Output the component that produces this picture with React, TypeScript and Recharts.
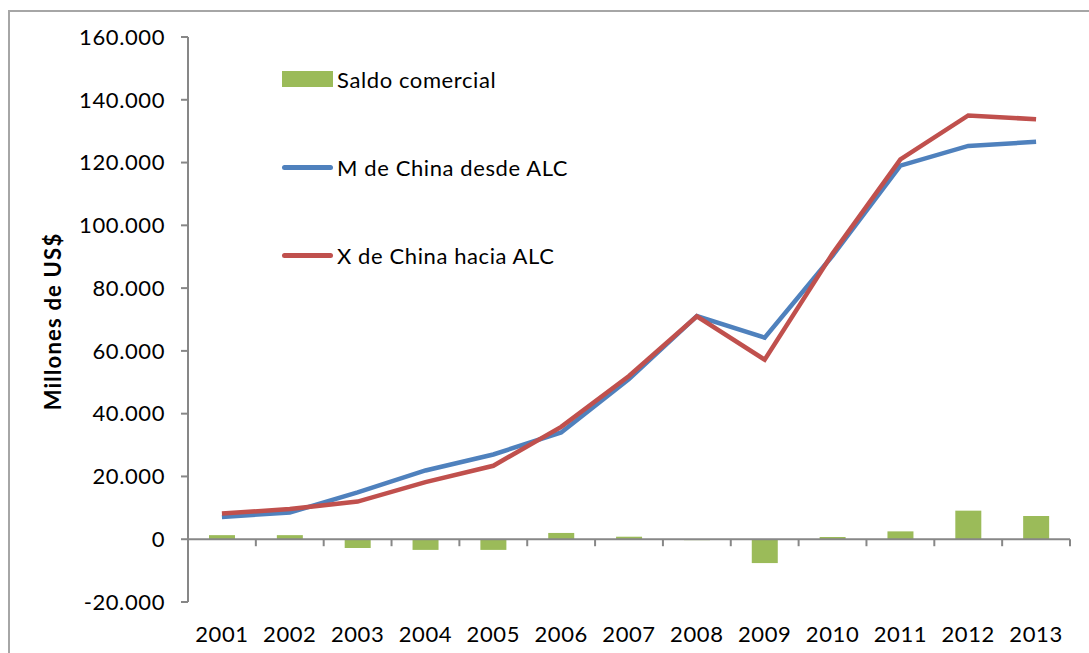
import { Bar, ComposedChart, Legend, Line, ReferenceLine, XAxis, YAxis } from 'recharts'

const years = ['2001', '2002', '2003', '2004', '2005', '2006', '2007', '2008', '2009', '2010', '2011', '2012', '2013']
// millones de US$
const saldoComercial = [1300, 1300, -2800, -3400, -3400, 2000, 800, -300, -7600, 700, 2500, 9100, 7400]
const importacionesChina = [7100, 8500, 14900, 21900, 27000, 34000, 51000, 71100, 64200, 90300, 119000, 125300, 126600]
const exportacionesChina = [8200, 9600, 12000, 18200, 23400, 35800, 52000, 71000, 57200, 91000, 121000, 135000, 133800]
const yTicks = [-20000, 0, 20000, 40000, 60000, 80000, 100000, 120000, 140000, 160000]

const legendOrder = ['Saldo comercial', 'M de China desde ALC', 'X de China hacia ALC']

const GREEN = '#9BBB59'
const BLUE = '#4F81BD'
const RED = '#C0504D'
const AXIS = '#878787'
const FONT = 'Lato, "Open Sans", sans-serif'
const tickStyle = { fill: '#000', fontSize: 22, fontFamily: FONT, letterSpacing: 0.6 }

const data = years.map((year, i) => ({
  year,
  saldo: saldoComercial[i],
  m: importacionesChina[i],
  x: exportacionesChina[i],
}))

function formatMiles(value: number): string {
  const sign = value < 0 ? '-' : ''
  return sign + String(Math.abs(value)).replace(/\B(?=(\d{3})+(?!\d))/g, '.')
}

// zero line with the category-boundary ticks hanging below it
function ZeroAxis(props: any) {
  const { x1, x2, y1 } = props
  const step = (x2 - x1) / years.length
  return (
    <g>
      <line x1={x1} x2={x2} y1={y1} y2={y1} stroke={AXIS} strokeWidth={2} />
      {Array.from({ length: years.length + 1 }, (_, i) => (
        <line key={i} x1={x1 + i * step} x2={x1 + i * step} y1={y1} y2={y1 + 7} stroke={AXIS} strokeWidth={2} />
      ))}
    </g>
  )
}

function LegendBox({ payload }: any) {
  const items = [...(payload ?? [])].sort((a, b) => legendOrder.indexOf(a.value) - legendOrder.indexOf(b.value))
  return (
    <div style={{ fontFamily: FONT, fontSize: 22, letterSpacing: 0.6, color: '#000' }}>
      {items.map((item: any) => (
        <div key={item.value} style={{ display: 'flex', alignItems: 'center', height: 88 }}>
          {item.type === 'rect' ? (
            <span style={{ display: 'inline-block', width: 51, height: 16, background: item.color }} />
          ) : (
            <span style={{ display: 'inline-block', width: 51, height: 5, borderRadius: 3, background: item.color }} />
          )}
          <span style={{ marginLeft: 4 }}>{item.value}</span>
        </div>
      ))}
    </div>
  )
}

function YLabel({ viewBox }: any) {
  const cx = 52
  const cy = viewBox.y + viewBox.height / 2 + 2
  return (
    <text
      x={cx}
      y={cy}
      transform={`rotate(-90, ${cx}, ${cy})`}
      textAnchor="middle"
      dominantBaseline="central"
      fontFamily={FONT}
      fontWeight="bold"
      fontSize={22}
      letterSpacing={1.2}
      fill="#000"
    >
      Millones de US$
    </text>
  )
}

export default function App() {
  return (
    <div style={{ position: 'absolute', left: 0, top: 0, width: 1089, height: 653, overflow: 'hidden', background: '#fff' }}>
      <div
        style={{
          position: 'absolute',
          left: 8,
          top: 10,
          width: 1200,
          height: 800,
          borderTop: '2px solid #a6a6a6',
          borderLeft: '2px solid #a6a6a6',
        }}
      />
      <div style={{ position: 'absolute', left: 0, top: 0 }}>
        <ComposedChart width={1089} height={653} data={data} margin={{ top: 37, right: 19, bottom: 11, left: 0 }}>
          <XAxis
            dataKey="year"
            axisLine={false}
            tickLine={false}
            tickSize={0}
            tickMargin={24}
            height={40}
            interval={0}
            tick={tickStyle}
          />
          <YAxis
            domain={[-20000, 160000]}
            ticks={yTicks}
            interval={0}
            width={188}
            tickFormatter={formatMiles}
            axisLine={{ stroke: AXIS, strokeWidth: 2 }}
            tickLine={{ stroke: AXIS, strokeWidth: 2 }}
            tickSize={7}
            tickMargin={16}
            tick={tickStyle}
            label={YLabel}
          />
          <Legend
            layout="vertical"
            align="center"
            verticalAlign="middle"
            wrapperStyle={{ left: 282, top: 35, width: 340 }}
            content={LegendBox}
          />
          <Bar dataKey="saldo" name="Saldo comercial" fill={GREEN} barSize={26} legendType="rect" isAnimationActive={false} />
          <ReferenceLine y={0} shape={ZeroAxis} />
          <Line
            dataKey="m"
            name="M de China desde ALC"
            stroke={BLUE}
            strokeWidth={4.5}
            dot={false}
            type="linear"
            legendType="line"
            isAnimationActive={false}
          />
          <Line
            dataKey="x"
            name="X de China hacia ALC"
            stroke={RED}
            strokeWidth={4.5}
            dot={false}
            type="linear"
            legendType="line"
            isAnimationActive={false}
          />
        </ComposedChart>
      </div>
    </div>
  )
}
